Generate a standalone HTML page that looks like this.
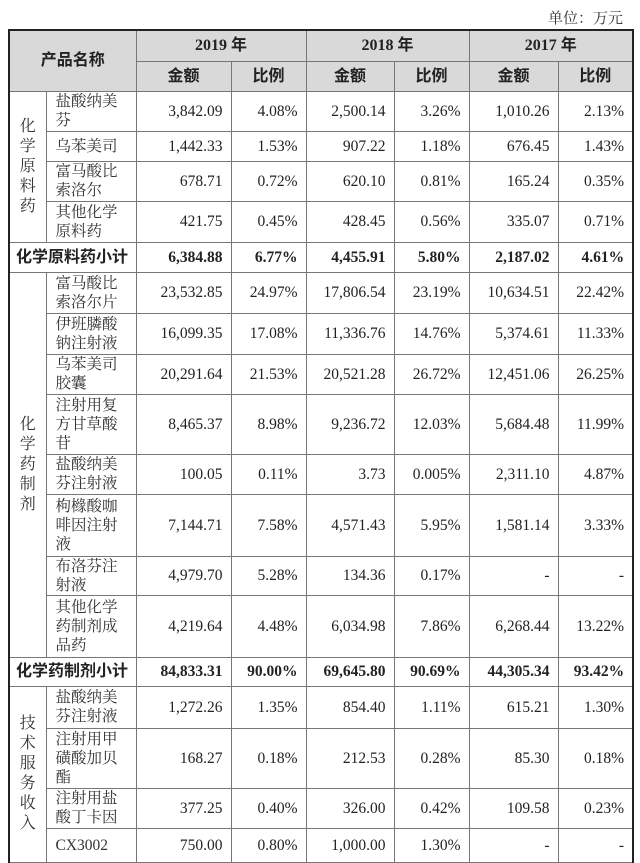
<!DOCTYPE html>
<html><head><meta charset="utf-8"><style>
body{margin:0;background:#fff;width:640px;height:855px;overflow:hidden;position:relative;font-family:"Liberation Serif","Noto Serif CJK SC",serif;color:#222}
.unit{position:absolute;right:17px;top:7px;font-size:15px;color:#333}
table{position:absolute;left:8px;top:29px;border-collapse:collapse;table-layout:fixed;width:624px;border:2px solid #222;border-bottom:none}
td{border:1px solid #777;padding:0;font-size:15.5px;line-height:19px;overflow:hidden}
.h{background:#d9d9d9;text-align:center;font-weight:bold;font-size:16px;font-family:"Liberation Serif","Noto Sans CJK SC",sans-serif}
.n{text-align:left;padding-left:9px;color:#333;font-size:15.5px}
.r{text-align:right;padding-right:8px}
.c{text-align:center;line-height:20px;color:#333;font-size:16px}
.b{font-weight:bold}
.bn{font-weight:bold;text-align:left;padding-left:6px;font-family:"Liberation Sans","Noto Sans CJK SC",sans-serif;font-size:16px}
</style></head><body>
<div class="unit">单位：万元</div>
<table>
<colgroup><col style="width:37px"><col style="width:90px"><col style="width:95px"><col style="width:75px"><col style="width:88px"><col style="width:75px"><col style="width:89px"><col style="width:75px"></colgroup>
<tr style="height:31px"><td class="h" colspan="2" rowspan="2">产品名称</td><td class="h" colspan="2">2019 年</td><td class="h" colspan="2">2018 年</td><td class="h" colspan="2">2017 年</td></tr>
<tr style="height:30px"><td class="h">金额</td><td class="h">比例</td><td class="h">金额</td><td class="h">比例</td><td class="h">金额</td><td class="h">比例</td></tr>
<tr style="height:40px"><td class="c" rowspan="4">化<br>学<br>原<br>料<br>药</td><td class="n">盐酸纳美<br>芬</td><td class="r">3,842.09</td><td class="r">4.08%</td><td class="r">2,500.14</td><td class="r">3.26%</td><td class="r">1,010.26</td><td class="r">2.13%</td></tr>
<tr style="height:30px"><td class="n">乌苯美司</td><td class="r">1,442.33</td><td class="r">1.53%</td><td class="r">907.22</td><td class="r">1.18%</td><td class="r">676.45</td><td class="r">1.43%</td></tr>
<tr style="height:40px"><td class="n">富马酸比<br>索洛尔</td><td class="r">678.71</td><td class="r">0.72%</td><td class="r">620.10</td><td class="r">0.81%</td><td class="r">165.24</td><td class="r">0.35%</td></tr>
<tr style="height:41px"><td class="n">其他化学<br>原料药</td><td class="r">421.75</td><td class="r">0.45%</td><td class="r">428.45</td><td class="r">0.56%</td><td class="r">335.07</td><td class="r">0.71%</td></tr>
<tr style="height:30px"><td class="bn" colspan="2">化学原料药小计</td><td class="r b">6,384.88</td><td class="r b">6.77%</td><td class="r b">4,455.91</td><td class="r b">5.80%</td><td class="r b">2,187.02</td><td class="r b">4.61%</td></tr>
<tr style="height:41px"><td class="c" rowspan="8">化<br>学<br>药<br>制<br>剂</td><td class="n">富马酸比<br>索洛尔片</td><td class="r">23,532.85</td><td class="r">24.97%</td><td class="r">17,806.54</td><td class="r">23.19%</td><td class="r">10,634.51</td><td class="r">22.42%</td></tr>
<tr style="height:41px"><td class="n">伊班膦酸<br>钠注射液</td><td class="r">16,099.35</td><td class="r">17.08%</td><td class="r">11,336.76</td><td class="r">14.76%</td><td class="r">5,374.61</td><td class="r">11.33%</td></tr>
<tr style="height:40px"><td class="n">乌苯美司<br>胶囊</td><td class="r">20,291.64</td><td class="r">21.53%</td><td class="r">20,521.28</td><td class="r">26.72%</td><td class="r">12,451.06</td><td class="r">26.25%</td></tr>
<tr style="height:60px"><td class="n">注射用复<br>方甘草酸<br>苷</td><td class="r">8,465.37</td><td class="r">8.98%</td><td class="r">9,236.72</td><td class="r">12.03%</td><td class="r">5,684.48</td><td class="r">11.99%</td></tr>
<tr style="height:40px"><td class="n">盐酸纳美<br>芬注射液</td><td class="r">100.05</td><td class="r">0.11%</td><td class="r">3.73</td><td class="r">0.005%</td><td class="r">2,311.10</td><td class="r">4.87%</td></tr>
<tr style="height:62px"><td class="n">枸橼酸咖<br>啡因注射<br>液</td><td class="r">7,144.71</td><td class="r">7.58%</td><td class="r">4,571.43</td><td class="r">5.95%</td><td class="r">1,581.14</td><td class="r">3.33%</td></tr>
<tr style="height:39px"><td class="n">布洛芬注<br>射液</td><td class="r">4,979.70</td><td class="r">5.28%</td><td class="r">134.36</td><td class="r">0.17%</td><td class="r">-</td><td class="r">-</td></tr>
<tr style="height:62px"><td class="n">其他化学<br>药制剂成<br>品药</td><td class="r">4,219.64</td><td class="r">4.48%</td><td class="r">6,034.98</td><td class="r">7.86%</td><td class="r">6,268.44</td><td class="r">13.22%</td></tr>
<tr style="height:29px"><td class="bn" colspan="2">化学药制剂小计</td><td class="r b">84,833.31</td><td class="r b">90.00%</td><td class="r b">69,645.80</td><td class="r b">90.69%</td><td class="r b">44,305.34</td><td class="r b">93.42%</td></tr>
<tr style="height:42px"><td class="c" rowspan="4">技<br>术<br>服<br>务<br>收<br>入</td><td class="n">盐酸纳美<br>芬注射液</td><td class="r">1,272.26</td><td class="r">1.35%</td><td class="r">854.40</td><td class="r">1.11%</td><td class="r">615.21</td><td class="r">1.30%</td></tr>
<tr style="height:60px"><td class="n">注射用甲<br>磺酸加贝<br>酯</td><td class="r">168.27</td><td class="r">0.18%</td><td class="r">212.53</td><td class="r">0.28%</td><td class="r">85.30</td><td class="r">0.18%</td></tr>
<tr style="height:40px"><td class="n">注射用盐<br>酸丁卡因</td><td class="r">377.25</td><td class="r">0.40%</td><td class="r">326.00</td><td class="r">0.42%</td><td class="r">109.58</td><td class="r">0.23%</td></tr>
<tr style="height:34px"><td class="n">CX3002</td><td class="r">750.00</td><td class="r">0.80%</td><td class="r">1,000.00</td><td class="r">1.30%</td><td class="r">-</td><td class="r">-</td></tr>
</table>
</body></html>
